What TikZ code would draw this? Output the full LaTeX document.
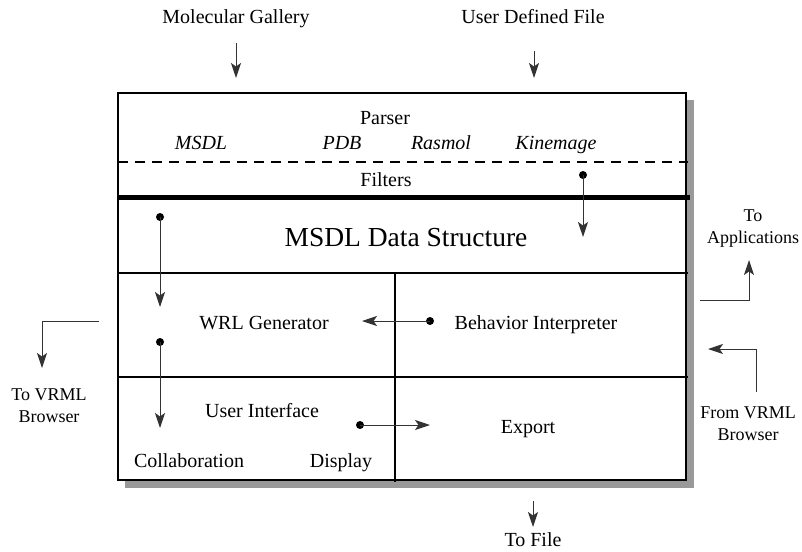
\documentclass[tikz,border=0pt]{standalone}
\usepackage{fontspec}
\setmainfont{Liberation Serif}
\newfontfamily\tnr{Liberation Serif}
\usetikzlibrary{arrows.meta}
\definecolor{shadowgray}{HTML}{999999}
\definecolor{thinline}{HTML}{333333}
\tikzset{
  lbl/.style={inner sep=0pt, anchor=base, font=\tnr\fontsize{20}{24}\selectfont},
  itl/.style={lbl, font=\tnr\fontsize{20}{24}\selectfont\itshape},
  side/.style={inner sep=0pt, align=center, font=\tnr\fontsize{18}{22}\selectfont},
  big/.style={inner sep=0pt, anchor=base, font=\tnr\fontsize{27.5}{32}\selectfont},
  dotn/.style={circle, fill=black, inner sep=0pt, minimum size=8pt},
  arr/.style={line width=1pt, draw=thinline, -{Stealth[length=15pt,width=10pt,inset=3.5pt]}},
  rowline/.style={line width=2pt},
}
\begin{document}
\begin{tikzpicture}[x=1pt,y=-1pt]
\useasboundingbox (0,0) rectangle (802,551);
% shadow and main box
\fill[shadowgray] (125,100) rectangle (694,488);
\draw[fill=white, line width=2.5pt] (118,93) rectangle (686,480);
% internal lines
\draw[line width=2.5pt, dash pattern=on 10pt off 7pt] (118,162) -- (688,162);
\draw[line width=5pt] (118,197) -- (690,197);
\draw[rowline] (118,273) -- (688,273);
\draw[rowline] (118,377) -- (688,377);
\draw[rowline] (395,273) -- (395,482);
% top inputs
\node[lbl] (mg) at (236,24) {Molecular Gallery};
\node[lbl] (udf) at (533,24) {User Defined File};
\coordinate (mgs) at (236,43);
\coordinate (mge) at (236,78);
\coordinate (udfs) at (534,51);
\coordinate (udfe) at (534,78);
\draw[arr] (mgs) -- (mge);
\draw[arr] (udfs) -- (udfe);
% parser section
\node[lbl] (parser) at (385,124) {Parser};
\node[itl] (msdl) at (201,149) {MSDL};
\node[itl] (pdb) at (342,149) {PDB};
\node[itl] (rasmol) at (441,149) {Rasmol};
\node[itl] (kine) at (556,149) {Kinemage};
\node[lbl] (filters) at (386,186) {Filters};
% data structure
\node[big] (ds) at (406,246) {MSDL Data Structure};
% row 2
\node[lbl] (wrl) at (264,329) {WRL Generator};
\node[lbl] (beh) at (536,329) {Behavior Interpreter};
% row 3
\node[lbl] (ui) at (262,417) {User Interface};
\node[lbl] (export) at (528,433) {Export};
\node[lbl] (collab) at (189,467) {Collaboration};
\node[lbl] (display) at (341,467) {Display};
% dots and internal arrows
\node[dotn] (d1) at (583,175) {};
\coordinate (t1) at (583,237);
\draw[arr] (d1.center) -- (t1);
\node[dotn] (d2) at (160,217) {};
\coordinate (t2) at (160,307);
\draw[arr] (d2.center) -- (t2);
\node[dotn] (d3) at (430,321) {};
\coordinate (t3) at (362,321);
\draw[arr] (d3.center) -- (t3);
\node[dotn] (d4) at (160,342) {};
\coordinate (t4) at (160,428);
\draw[arr] (d4.center) -- (t4);
\node[dotn] (d5) at (360,425) {};
\coordinate (t5) at (430,425);
\draw[arr] (d5.center) -- (t5);
% to file
\coordinate (fs) at (533,501);
\coordinate (fe) at (533,527);
\draw[arr] (fs) -- (fe);
\node[lbl] (tofile) at (533,546) {To File};
% left: to VRML browser
\coordinate (ls) at (99,321);
\coordinate (le) at (42,368);
\draw[arr] (ls) -| (le);
\node[side] (tovrml) at (49,406) {To VRML\\Browser};
% right: to applications
\coordinate (rs) at (700,300);
\coordinate (re) at (749,260);
\draw[arr] (rs) -| (re);
\node[side] (toapp) at (753,229) {To\\Applications};
% right: from VRML browser
\coordinate (fvs) at (756,392);
\coordinate (fve) at (708,349);
\draw[arr] (fvs) |- (fve);
\node[side] (fromvrml) at (748,424) {From VRML\\Browser};
\end{tikzpicture}
\end{document}
